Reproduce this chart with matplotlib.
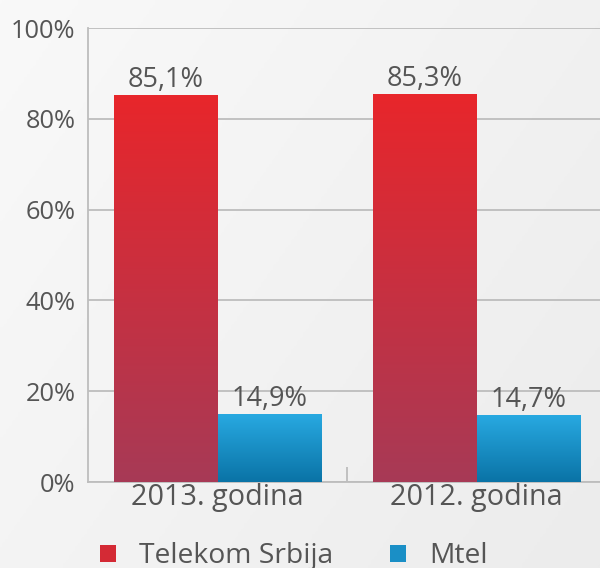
import numpy as np
import matplotlib.pyplot as plt
from matplotlib.colors import LinearSegmentedColormap
from matplotlib.patches import Patch
from matplotlib.ticker import FixedLocator

plt.rcParams['font.family'] = ['Open Sans', 'DejaVu Sans']

years = ['2013. godina', '2012. godina']
telekom = [85.1, 85.3]
mtel = [14.9, 14.7]
series_names = ['Telekom Srbija', 'Mtel']
yticks = [0, 20, 40, 60, 80, 100]

text_col = '#555555'
grid_col = '#bdbdbd'
red_cmap = LinearSegmentedColormap.from_list('red', ['#a73a56', '#e8262b'])
blue_cmap = LinearSegmentedColormap.from_list('blue', ['#0a73a6', '#28a9e1'])

fig = plt.figure(figsize=(6, 5.68), dpi=100)

# background with a soft gradient
bg = fig.add_axes([0, 0, 1, 1], zorder=-10)
gx, gy = np.meshgrid(np.linspace(0, 1, 200), np.linspace(0, 1, 200))
bg.imshow(0.6 * gx + 0.4 * gy, cmap=LinearSegmentedColormap.from_list('bg', ['#f9f9f9', '#ececec']),
          aspect='auto', extent=[0, 1, 0, 1], origin='upper')
bg.axis('off')

ax = fig.add_axes([0.1467, 0.1514, 0.8633, 0.7993])
ax.set_facecolor('none')

x = np.arange(len(years))
w = 0.4
bars_t = ax.bar(x - w / 2, telekom, w, color='none', zorder=3)
bars_m = ax.bar(x + w / 2, mtel, w, color='none', zorder=3)

grad = np.linspace(0, 1, 256).reshape(-1, 1)
for bars, cmap in [(bars_t, red_cmap), (bars_m, blue_cmap)]:
    for b in bars:
        bb = b.get_bbox()
        ax.imshow(grad, cmap=cmap, aspect='auto', origin='lower',
                  extent=[bb.x0, bb.x1, bb.y0, bb.y1], zorder=3)

ax.bar_label(bars_t, labels=[f'{v:.1f}%'.replace('.', ',') for v in telekom],
             padding=1, fontsize=19.5, color=text_col)
ax.bar_label(bars_m, labels=[f'{v:.1f}%'.replace('.', ',') for v in mtel],
             padding=1, fontsize=19.5, color=text_col)

ax.set_xlim(-0.5, 1.5)
ax.set_ylim(0, 100)
ax.set_yticks(yticks)
ax.set_yticklabels([f'{t}%' for t in yticks])
ax.yaxis.grid(True, color=grid_col, lw=1.3)
ax.set_axisbelow(True)

ax.set_xticks(x)
ax.set_xticklabels(years)
ax.xaxis.set_minor_locator(FixedLocator([0.5]))
ax.tick_params(axis='x', which='major', length=0, pad=1, labelsize=20.7, labelcolor=text_col)
ax.tick_params(axis='x', which='minor', length=11, direction='in', color=grid_col, width=1.3)
ax.tick_params(axis='y', length=0, pad=9, labelsize=18.3, labelcolor=text_col)

for s in ['top', 'right']:
    ax.spines[s].set_visible(False)
for s in ['left', 'bottom']:
    ax.spines[s].set_color(grid_col)
    ax.spines[s].set_linewidth(1.3)

handles = [Patch(facecolor='#d42a35'), Patch(facecolor='#1a8fc6')]
fig.legend(handles, series_names, loc='lower left', bbox_to_anchor=(0.1667, -0.004),
           ncol=2, frameon=False, fontsize=20.3, labelcolor=text_col,
           borderpad=0, borderaxespad=0,
           handlelength=0.55, handleheight=0.55, handletextpad=0.85, columnspacing=2.0)

plt.savefig('out.png', dpi=100)
